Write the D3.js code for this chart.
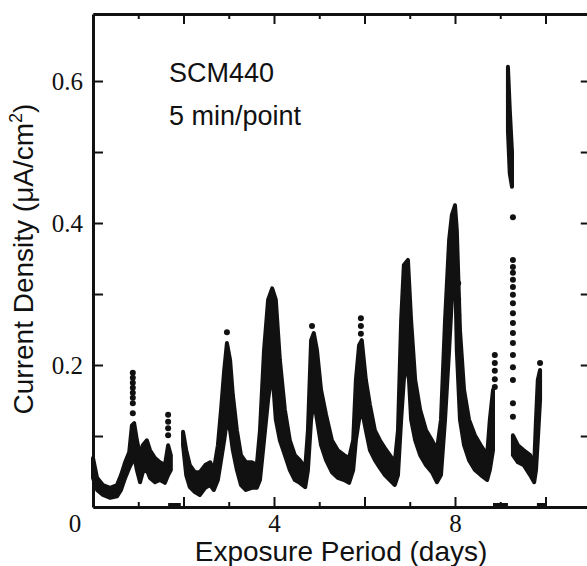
<!DOCTYPE html>
<html>
<head>
<meta charset="utf-8">
<script src="https://cdn.jsdelivr.net/npm/d3@7/dist/d3.min.js"></script>
<style>
  body { margin: 0; background: #fff; }
  .axis path, .axis line { stroke: #111; }
  .axis text { font-family: "Liberation Serif", serif; font-size: 25px; fill: #111; }
  .label { font-family: "Liberation Sans", Arial, sans-serif; fill: #111; }
</style>
</head>
<body>
<div id="chart"></div>
<script>
// dense part of the record (band between low and high reading), null = no data
var bandDay = [0.00,0.09,0.22,0.38,0.53,0.62,0.71,0.80,0.86,0.91,0.97,1.04,1.10,1.19,1.26,1.37,1.48,1.59,1.66,1.72,
  1.85,
  1.99,2.06,2.14,2.25,2.36,2.48,2.59,2.67,2.76,2.83,2.90,2.96,3.03,3.09,3.18,3.27,3.38,3.51,3.62,3.69,3.78,3.87,3.96,
  4.04,4.13,4.24,4.35,4.46,4.57,4.69,4.75,4.82,4.88,4.95,5.04,5.15,5.28,5.41,5.55,5.66,5.75,5.81,5.88,5.94,
  6.03,6.12,6.23,6.34,6.45,6.56,6.67,6.74,6.81,6.87,6.96,7.03,7.12,7.23,7.36,7.49,7.60,7.69,7.78,7.87,7.93,
  8.00,8.04,8.11,8.20,8.31,8.44,8.57,8.71,8.77,8.84,
  9.00,
  9.17,9.21,9.26,
  9.27,
  9.28,9.39,9.52,9.66,9.75,9.79,9.83,9.88];
var bandHi = [0.069,0.041,0.031,0.027,0.031,0.045,0.063,0.077,0.115,0.118,0.094,0.073,0.087,0.094,0.080,0.069,0.063,0.059,0.087,0.073,
  null,
  0.106,0.080,0.059,0.049,0.049,0.059,0.063,0.052,0.087,0.137,0.193,0.231,0.207,0.158,0.108,0.073,0.063,0.063,0.059,0.108,0.221,0.292,0.308,
  0.292,0.207,0.137,0.094,0.073,0.066,0.055,0.108,0.235,0.245,0.221,0.165,0.130,0.094,0.080,0.073,0.069,0.094,0.179,0.228,0.235,
  0.179,0.144,0.108,0.094,0.083,0.073,0.063,0.108,0.263,0.341,0.348,0.263,0.179,0.137,0.108,0.094,0.080,0.123,0.263,0.376,0.411,
  0.425,0.390,0.249,0.165,0.123,0.101,0.087,0.073,0.123,0.165,
  null,
  0.620,0.560,0.500,
  null,
  0.101,0.087,0.080,0.073,0.059,0.123,0.179,0.193];
var bandLo = [0.041,0.024,0.017,0.013,0.015,0.024,0.041,0.055,0.063,0.073,0.052,0.035,0.049,0.052,0.041,0.035,0.038,0.034,0.045,0.052,
  null,
  0.087,0.045,0.028,0.021,0.017,0.027,0.031,0.024,0.038,0.066,0.094,0.123,0.108,0.080,0.052,0.031,0.024,0.027,0.027,0.038,0.094,0.151,0.193,
  0.123,0.094,0.073,0.052,0.038,0.034,0.028,0.052,0.123,0.151,0.123,0.087,0.066,0.049,0.041,0.038,0.034,0.052,0.094,0.123,0.137,
  0.108,0.080,0.066,0.055,0.045,0.038,0.031,0.045,0.123,0.179,0.207,0.123,0.094,0.073,0.059,0.049,0.035,0.045,0.123,0.221,0.292,
  0.348,0.221,0.123,0.087,0.066,0.052,0.045,0.038,0.052,0.080,
  null,
  0.530,0.470,0.451,
  null,
  0.073,0.063,0.059,0.045,0.035,0.052,0.094,0.151];

// single readings standing out of the band
var dotDay = [0.88,0.88,0.88,0.88,0.88,0.88,0.88,0.88,
  1.66,1.66,1.66,1.66,
  2.96, 4.84, 5.92,5.92,5.92,
  8.07,8.07,8.07,8.07,
  8.88,8.88,8.88,8.88,8.88,
  9.28,9.28,9.28,9.28,9.28,9.28,9.28,9.28,9.28,9.28,9.28,9.28,9.28,9.28,9.28,9.28,9.28,
  9.88];
var dotVal = [0.189,0.182,0.175,0.168,0.161,0.154,0.146,0.132,
  0.130,0.120,0.111,0.101,
  0.246, 0.255, 0.266,0.255,0.244,
  0.315,0.292,0.270,0.254,
  0.214,0.203,0.192,0.180,0.169,
  0.408,0.348,0.338,0.330,0.320,0.310,0.299,0.287,0.273,0.259,0.245,0.231,0.214,0.197,0.179,0.146,0.127,
  0.203];

// stretches where the record sits on zero
var zeroStart = [1.66, 8.84, 9.81];
var zeroEnd = [1.94, 9.17, 10.03];

var majorDays = [2, 4, 6, 8, 10];
var minorDays = [1, 3, 5, 7, 9];
var labelDays = [4, 8];
var yTicks = [0.1, 0.2, 0.3, 0.4, 0.5, 0.6];
var yLabels = [0.2, 0.4, 0.6];

var width = 587, height = 566;

var svg = d3.select("#chart")
  .append("svg")
    .attr("width", width)
    .attr("height", height);

var x = d3.scaleLinear().domain([0, 11]).range([93, 590.75]);
var y = d3.scaleLinear().domain([0, 0.6944]).range([507, 14]);

// data band
var area = d3.area()
  .defined(function(d, i) { return bandLo[i] != null; })
  .x(function(d) { return x(d); })
  .y0(function(d, i) { return y(bandLo[i]); })
  .y1(function(d, i) { return y(bandHi[i]); });

svg.append("path")
  .attr("d", area(bandDay))
  .attr("fill", "#111")
  .attr("stroke", "#111")
  .attr("stroke-width", 4)
  .attr("stroke-linejoin", "round");

svg.append("g")
  .selectAll("circle")
  .data(dotDay)
  .enter().append("circle")
    .attr("cx", function(d) { return x(d); })
    .attr("cy", function(d, i) { return y(dotVal[i]); })
    .attr("r", 3)
    .attr("fill", "#111");

svg.append("g")
  .selectAll("line")
  .data(zeroStart)
  .enter().append("line")
    .attr("x1", function(d) { return x(d); })
    .attr("x2", function(d, i) { return x(zeroEnd[i]); })
    .attr("y1", y(0) - 1)
    .attr("y2", y(0) - 1)
    .attr("stroke", "#111")
    .attr("stroke-width", 6);

// axes, ticks point inward
function styleAxis(g, w) {
  g.attr("class", "axis");
  g.select(".domain").attr("stroke-width", w);
  g.selectAll(".tick line").attr("stroke-width", 2);
}

svg.append("g")
  .attr("transform", "translate(0," + y(0) + ")")
  .call(d3.axisBottom(x).tickValues(minorDays).tickSizeInner(-5).tickSizeOuter(0).tickFormat(""))
  .call(styleAxis, 3);
svg.append("g")
  .attr("transform", "translate(0," + y(0) + ")")
  .call(d3.axisBottom(x).tickValues(majorDays).tickSizeInner(-10).tickSizeOuter(0).tickPadding(7)
    .tickFormat(function(d) { return labelDays.indexOf(d) >= 0 ? d : ""; }))
  .call(styleAxis, 3);

svg.append("g")
  .attr("transform", "translate(0," + y.range()[1] + ")")
  .call(d3.axisTop(x).tickValues(minorDays).tickSizeInner(-5).tickSizeOuter(0).tickFormat(""))
  .call(styleAxis, 3);
svg.append("g")
  .attr("transform", "translate(0," + y.range()[1] + ")")
  .call(d3.axisTop(x).tickValues(majorDays).tickSizeInner(-10).tickSizeOuter(0).tickFormat(""))
  .call(styleAxis, 3);

svg.append("g")
  .attr("transform", "translate(" + x(0) + ",0)")
  .call(d3.axisLeft(y).tickValues(yTicks).tickSizeInner(-10).tickSizeOuter(0).tickPadding(10)
    .tickFormat(function(d) { return yLabels.indexOf(d) >= 0 ? d3.format(".1f")(d) : ""; }))
  .call(styleAxis, 3);

svg.append("g")
  .attr("transform", "translate(" + x(11) + ",0)")
  .call(d3.axisRight(y).tickValues(yTicks).tickSizeInner(-10).tickSizeOuter(0).tickFormat(""))
  .call(styleAxis, 3);

// origin label
svg.append("text")
  .attr("x", 75)
  .attr("y", 532)
  .attr("text-anchor", "middle")
  .style("font-family", "'Liberation Serif', serif")
  .style("font-size", "25px")
  .attr("fill", "#111")
  .text("0");

// axis titles
svg.append("text")
  .attr("class", "label")
  .attr("x", 341)
  .attr("y", 561)
  .attr("text-anchor", "middle")
  .style("font-size", "28px")
  .text("Exposure Period (days)");

var yTitle = svg.append("text")
  .attr("class", "label")
  .attr("transform", "translate(33,259) rotate(-90)")
  .attr("text-anchor", "middle")
  .style("font-size", "28px");
yTitle.append("tspan").text("Current Density (μA/cm");
yTitle.append("tspan").attr("dy", -11).style("font-size", "18px").text("2");
yTitle.append("tspan").attr("dy", 11).text(")");

// annotations
svg.append("text")
  .attr("class", "label")
  .attr("x", 169)
  .attr("y", 82)
  .style("font-size", "27px")
  .text("SCM440");

svg.append("text")
  .attr("class", "label")
  .attr("x", 169)
  .attr("y", 125)
  .style("font-size", "27px")
  .text("5 min/point");
</script>
</body>
</html>
